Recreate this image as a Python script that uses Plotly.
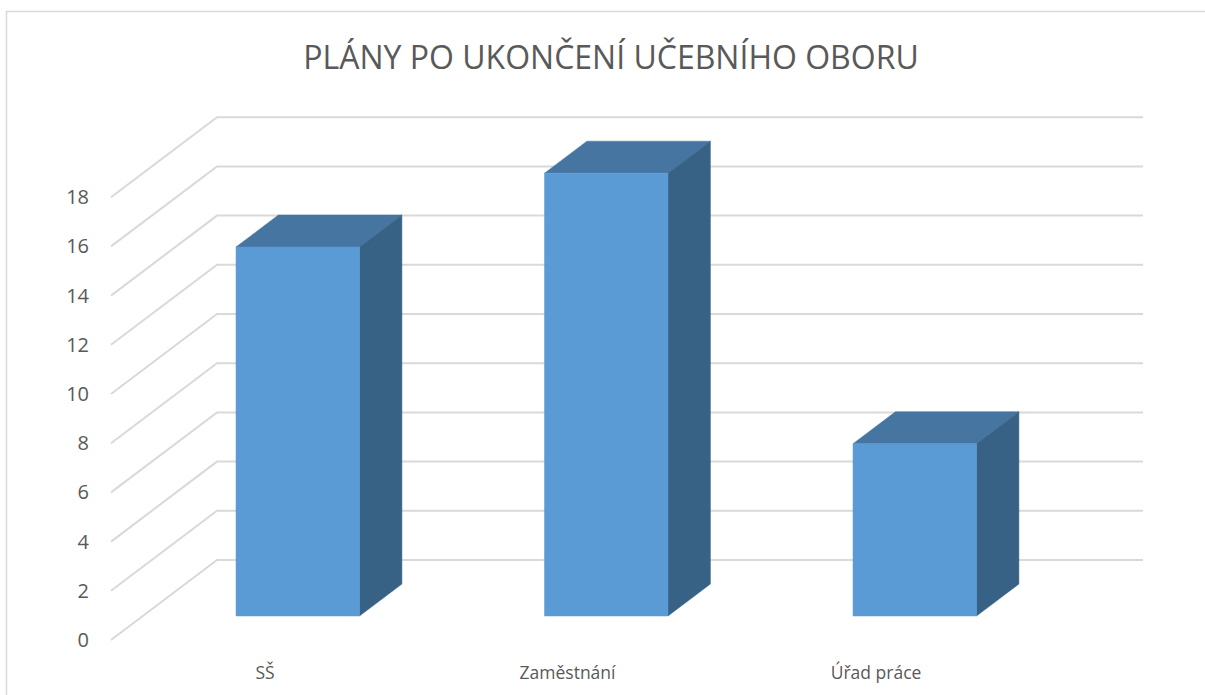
import plotly.graph_objects as go

# --- data ---
categories = ["SŠ", "Zaměstnání", "Úřad práce"]
values = [15, 18, 7]
tick_values = [0, 2, 4, 6, 8, 10, 12, 14, 16, 18]
title_text = "PLÁNY PO UKONČENÍ UČEBNÍHO OBORU"

# --- canvas and axis layout (pixels) ---
W, H = 1205, 695
PLOT_L, PLOT_R, PLOT_T, PLOT_B = 90, 1205, 90, 660
PX_PER_VALUE = 24.6
PX_PER_CAT = 308.5
ZERO_PX = 640      # pixel row of value 0 on the front edge of the floor
CAT1_PX = 265      # pixel column of the first category position

# category-unit / value-unit conversions for the axes
x_range = [1 + (PLOT_L - CAT1_PX) / PX_PER_CAT, 1 + (PLOT_R - CAT1_PX) / PX_PER_CAT]
y_range = [(ZERO_PX - PLOT_B) / PX_PER_VALUE, (ZERO_PX - PLOT_T) / PX_PER_VALUE]

# the reference's labels sit slightly left of the regular spacing for the last two
LABEL_NUDGE = [0, -6 / PX_PER_CAT, -6 / PX_PER_CAT]

# oblique projection: how far depth 1 moves a point on screen
SHEAR_X = 106 / PX_PER_CAT
SHEAR_Y = 80 / PX_PER_VALUE
WALL_X = 1 + (111 - CAT1_PX) / PX_PER_CAT
WALL_RIGHT_X = 1 + (1143 - 106 - CAT1_PX) / PX_PER_CAT

# bar placement relative to its category position
DEPTH_FRONT = (640 - 616) / 80
DEPTH_BACK = (640 - 584) / 80
BAR_WIDTH = 123.5 / PX_PER_CAT
BAR_OFFSET = (236 - CAT1_PX) / PX_PER_CAT - DEPTH_FRONT * SHEAR_X

FRONT, TOP, SIDE = "#5B9BD5", "#4675A1", "#376286"
GRID = "#D9D9D9"
TEXT = "#595959"
FONT = "Open Sans"


def project(x, value, depth):
    return x + depth * SHEAR_X, value + depth * SHEAR_Y


def face(points, color):
    xs, ys = zip(*[project(*p) for p in points])
    return go.Scatter(
        x=list(xs) + [xs[0]], y=list(ys) + [ys[0]], mode="lines", fill="toself",
        fillcolor=color, line=dict(color=color, width=0.5), hoverinfo="skip",
    )


fig = go.Figure()

# wall and side gridlines
for v in tick_values:
    pts = [project(WALL_X, v, 0), project(WALL_X, v, 1), project(WALL_RIGHT_X, v, 1)]
    fig.add_trace(go.Scatter(
        x=[p[0] for p in pts], y=[p[1] for p in pts], mode="lines",
        line=dict(color=GRID, width=2), hoverinfo="skip",
    ))

# bars: front, top and right faces
for i, v in enumerate(values):
    x0 = i + 1 + BAR_OFFSET
    x1 = x0 + BAR_WIDTH
    a, b = DEPTH_FRONT, DEPTH_BACK
    fig.add_trace(face([(x0, v, a), (x0, v, b), (x1, v, b), (x1, v, a)], TOP))
    fig.add_trace(face([(x1, 0, a), (x1, v, a), (x1, v, b), (x1, 0, b)], SIDE))
    fig.add_trace(face([(x0, 0, a), (x0, v, a), (x1, v, a), (x1, 0, a)], FRONT))

fig.update_layout(
    width=W, height=H, autosize=False,
    margin=dict(l=PLOT_L, r=W - PLOT_R, t=PLOT_T, b=H - PLOT_B, pad=0),
    paper_bgcolor="white", plot_bgcolor="rgba(0,0,0,0)",
    showlegend=False, hovermode=False,
    font=dict(family=FONT, color=TEXT, size=17),
    title=dict(
        text=title_text, x=611 / W, xref="container", xanchor="center",
        y=1 - 58 / H, yref="container", yanchor="middle",
        font=dict(family=FONT, size=32, color=TEXT),
    ),
    xaxis=dict(
        range=x_range, tickmode="array",
        tickvals=[i + 1 + n for i, n in enumerate(LABEL_NUDGE)], ticktext=categories,
        showgrid=False, zeroline=False, showline=False, ticks="",
        tickfont=dict(family=FONT, size=17.5, color=TEXT),
    ),
    yaxis=dict(
        range=y_range, tickmode="array", tickvals=tick_values,
        ticktext=[str(t) for t in tick_values],
        showgrid=False, zeroline=False, showline=False, ticks="",
        tickfont=dict(family=FONT, size=20, color=TEXT),
    ),
    shapes=[dict(
        type="rect", xref="paper", yref="paper",
        x0=(6.5 - PLOT_L) / (PLOT_R - PLOT_L), x1=(W + 5 - PLOT_L) / (PLOT_R - PLOT_L),
        y0=(PLOT_B - H - 5) / (PLOT_B - PLOT_T), y1=(PLOT_B - 11.5) / (PLOT_B - PLOT_T),
        line=dict(color="#D9D9D9", width=1.5), layer="below",
    )],
)

fig.write_html(
    "out.html", config={"displayModeBar": False},
    post_script="document.body.style.margin='0';document.documentElement.style.overflow='hidden';",
)
